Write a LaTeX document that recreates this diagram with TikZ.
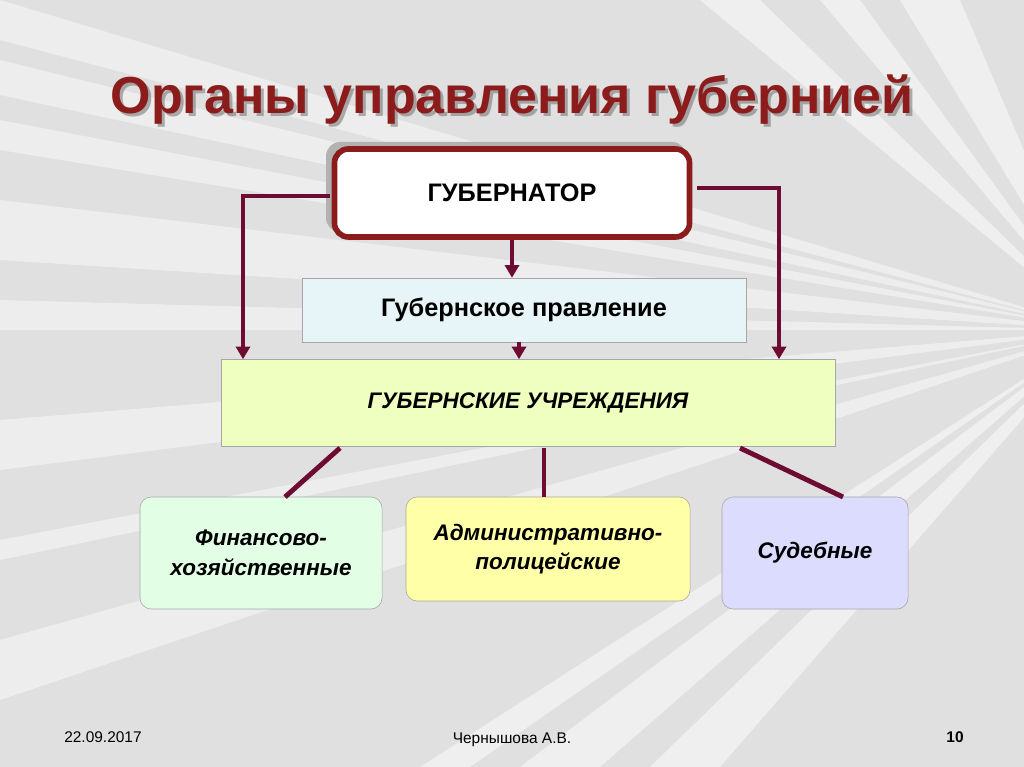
\documentclass[tikz,border=0pt]{standalone}
\usepackage{fontspec}
\setmainfont{Liberation Sans}
\usetikzlibrary{arrows.meta, positioning}
\definecolor{titleRed}{HTML}{8C1C1C}
\definecolor{linkMaroon}{HTML}{6E0B33}
\definecolor{boardFill}{HTML}{E8F5F8}
\definecolor{officeFill}{HTML}{EEFFC0}
\definecolor{financeFill}{HTML}{E2FFE6}
\definecolor{policeFill}{HTML}{FFFFA8}
\definecolor{courtFill}{HTML}{DCDCFF}
\tikzset{
    TitleText/.style={font=\fontsize{37}{42}\selectfont\bfseries, text=titleRed},
    BoxText/.style={font=\fontsize{18}{21}\selectfont\bfseries, align=center},
    LinkArrow/.style={-{Triangle[length=9pt, width=10pt]}, line width=3.5pt, draw=linkMaroon},
    LinkLine/.style={line width=3.5pt, draw=linkMaroon},
    SubBox/.style={draw=gray!70, rounded corners=8pt, BoxText, font=\fontsize{16}{21}\selectfont\bfseries\itshape}
}
\begin{document}
\begin{tikzpicture}[x=0.025cm, y=-0.025cm]
    \useasboundingbox (0,0) rectangle (1024,767);
    % фон
    \fill[gray!24] (0,0) rectangle (1024,767);
    \foreach \a/\b in {0/40, 60/95, 120/150, 200/260, 300/330, 420/470, 540/560, 640/700} {
        \fill[white, opacity=0.45] (1100,330) -- (0,\a) -- (0,\b) -- cycle;
    }
    \foreach \a/\b in {700/760, 820/860, 900/960} {
        \fill[white, opacity=0.5] (1100,330) -- (\a,0) -- (\b,0) -- cycle;
    }
    \foreach \a/\b in {420/470, 520/600, 650/720} {
        \fill[white, opacity=0.5] (1100,330) -- (\a,767) -- (\b,767) -- cycle;
    }
    % заголовок
    \begin{scope}[transparency group, opacity=0.5]
        \node[TitleText, text=black!60] at (515,103) {Органы управления губернией};
    \end{scope}
    \node[TitleText] (title) at (512,100) {Органы управления губернией};
    % схема
    \fill[gray!60, rounded corners=10pt] (326,142) rectangle (686,232);
    \node[draw=titleRed, line width=4pt, fill=white, rounded corners=10pt, minimum width=8.875cm, minimum height=2.2cm, BoxText] (gov) at (512,193) {ГУБЕРНАТОР};
    \node[draw=gray!70, fill=boardFill, minimum width=11.1cm, minimum height=1.6cm, BoxText] (board) at (524,310) {Губернское правление};
    \node[draw=gray!70, fill=officeFill, minimum width=15.35cm, minimum height=2.175cm, BoxText, font=\fontsize{16}{19}\selectfont\bfseries\itshape] (offices) at (528,403) {ГУБЕРНСКИЕ УЧРЕЖДЕНИЯ};
    \node[SubBox, fill=financeFill, minimum width=6.05cm, minimum height=2.8cm] (finance) at (261,553) {Финансово-\\хозяйственные};
    \node[SubBox, fill=policeFill, minimum width=7.1cm, minimum height=2.6cm] (police) at (548,549) {Административно-\\полицейские};
    \node[SubBox, fill=courtFill, minimum width=4.65cm, minimum height=2.8cm] (court) at (815,553) {Судебные};
    % связи
    \coordinate (govL) at (330,196);
    \coordinate (govR) at (697,188);
    \draw[LinkArrow] (gov.south) -- (gov.south |- board.north);
    \draw[LinkArrow] (board.south -| 519,0) -- (offices.north -| 519,0);
    \draw[LinkArrow] (govL) -| (offices.north -| 243,0);
    \draw[LinkArrow] (govR) -| (offices.north -| 779,0);
    \draw[LinkLine] (340,448) -- (285,497);
    \draw[LinkLine] (544,448) -- (544,497);
    \draw[LinkLine] (740,448) -- (843,497);
    % подвал
    \node[font=\fontsize{11}{13}\selectfont] (date) at (103,737) {22.09.2017};
    \node[font=\fontsize{11}{13}\selectfont] (author) at (512,740) {Чернышова А.В.};
    \node[font=\fontsize{11}{13}\selectfont\bfseries] (page) at (955,737) {10};
\end{tikzpicture}
\end{document}
